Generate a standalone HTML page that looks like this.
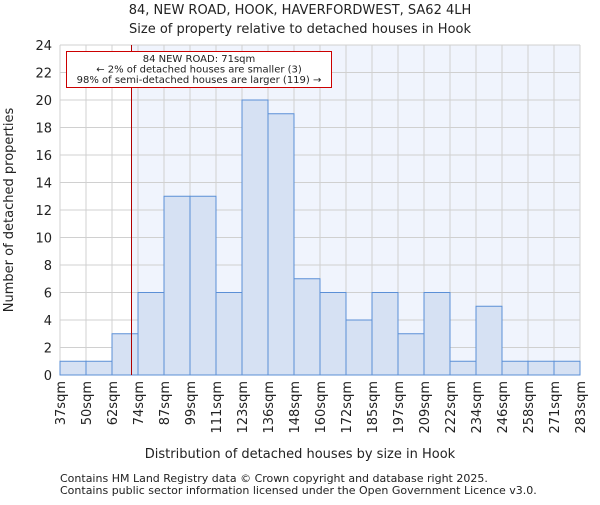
<!DOCTYPE html>
<html><head><meta charset="utf-8"><style>body{margin:0;background:#fff}svg text{font-family:"DejaVu Sans","Liberation Sans",sans-serif;fill:#222}</style></head>
<body>
<svg id="c" width="600" height="500" xmlns="http://www.w3.org/2000/svg">
<text x="300" y="14" text-anchor="middle" font-size="13">84, NEW ROAD, HOOK, HAVERFORDWEST, SA62 4LH</text>
<text x="300" y="33" text-anchor="middle" font-size="13">Size of property relative to detached houses in Hook</text>
<g id="plot"></g>
<text x="300" y="458" text-anchor="middle" font-size="13">Distribution of detached houses by size in Hook</text>
<text transform="translate(13,210) rotate(-90)" text-anchor="middle" font-size="13">Number of detached properties</text>
<text x="60" y="482" font-size="11">Contains HM Land Registry data © Crown copyright and database right 2025.</text>
<text x="60" y="494" font-size="11">Contains public sector information licensed under the Open Government Licence v3.0.</text>
</svg>
<script>
const categories=["37sqm","50sqm","62sqm","74sqm","87sqm","99sqm","111sqm","123sqm","136sqm","148sqm","160sqm","172sqm","185sqm","197sqm","209sqm","222sqm","234sqm","246sqm","258sqm","271sqm","283sqm"];
const counts=[1,1,3,6,13,13,6,20,19,7,6,4,6,3,6,1,5,1,1,1];
const yTicks=[0,2,4,6,8,10,12,14,16,18,20,22,24];
const marker=71;
const binStarts=[37,50,62,74,87,99,111,123,136,148,160,172,185,197,209,222,234,246,258,271,283];
const NS="http://www.w3.org/2000/svg";
const L=60,R=580,T=45,B=375;
const xi=i=>L+(R-L)*i/counts.length;
const y=v=>B-(B-T)*v/24;
function xv(v){for(let i=0;i<binStarts.length-1;i++){if(v<=binStarts[i+1])return xi(i)+(v-binStarts[i])/(binStarts[i+1]-binStarts[i])*(xi(i+1)-xi(i));}return R;}
const g=document.getElementById('plot');
function mk(t,a){const e=document.createElementNS(NS,t);for(const k in a)e.setAttribute(k,a[k]);g.appendChild(e);return e;}
const mx=xv(marker);
let bg=mk('rect',{x:mx,y:T,width:R-mx,height:B-T,fill:'#f0f4fd'});


for(let i=0;i<=counts.length;i++){let l=mk('line',{x1:xi(i),x2:xi(i),y1:T,y2:B,stroke:'#d0d0d0'});

}
yTicks.forEach(v=>{let l=mk('line',{x1:L,x2:R,y1:y(v),y2:y(v),stroke:'#d0d0d0'});


let t=mk('text',{x:L-8,y:y(v)+5,'text-anchor':'end','font-size':13});t.textContent=v;

});
counts.forEach((c,i)=>{let r=mk('rect',{x:xi(i),y:y(c),width:xi(i+1)-xi(i),height:B-y(c),fill:'#d6e1f3',stroke:'#5b8fd6','stroke-width':1});

});
categories.forEach((c,i)=>{let t=mk('text',{transform:`translate(${xi(i)+5},${B+6}) rotate(-90)`,'text-anchor':'end','font-size':13});t.textContent=c;

});
let ml=mk('line',{x1:mx,x2:mx,y1:T,y2:B,stroke:'#b00000','stroke-width':1});


let box=mk('rect',{x:66.5,y:51.5,width:265,height:36,fill:'#fff',stroke:'#cc0000','stroke-width':1});


["84 NEW ROAD: 71sqm","← 2% of detached houses are smaller (3)","98% of semi-detached houses are larger (119) →"].forEach((s,i)=>{let t=mk('text',{x:199,y:62+i*10.5,'text-anchor':'middle','font-size':10});t.textContent=s;

});
</script>
</body></html>
